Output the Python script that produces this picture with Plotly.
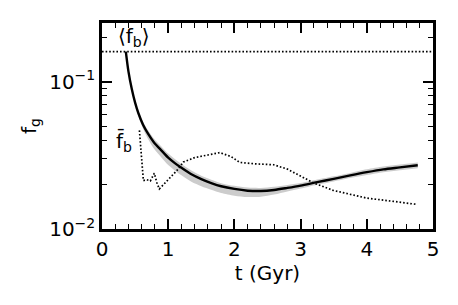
import numpy as np
import plotly.graph_objects as go

# Fit curve f_g(t)
t_fit = [0.36, 0.40, 0.45, 0.50, 0.55, 0.62, 0.70, 0.78, 0.90, 1.00, 1.10, 1.20, 1.35, 1.50, 1.65, 1.80,
         2.00, 2.20, 2.40, 2.60, 2.80, 3.00, 3.25, 3.50, 3.75, 4.00, 4.25, 4.50, 4.77]
f_fit = [0.16, 0.117, 0.089, 0.072, 0.061, 0.051, 0.044, 0.039, 0.034, 0.0305, 0.0280, 0.0260, 0.0235,
         0.0218, 0.0205, 0.0195, 0.0187, 0.0182, 0.0181, 0.0184, 0.0190, 0.0197, 0.0208, 0.0219, 0.0231,
         0.0243, 0.0254, 0.0262, 0.0271]
band_up = [1.01, 1.01, 1.015, 1.02, 1.03, 1.045, 1.055, 1.06, 1.065, 1.065, 1.065, 1.06, 1.06, 1.055, 1.055,
           1.05, 1.05, 1.05, 1.05, 1.05, 1.045, 1.04, 1.04, 1.04, 1.04, 1.045, 1.045, 1.045, 1.045]
band_lo = [0.99, 0.99, 0.985, 0.975, 0.96, 0.94, 0.92, 0.905, 0.895, 0.89, 0.89, 0.89, 0.89, 0.895, 0.9,
           0.9, 0.9, 0.905, 0.915, 0.93, 0.945, 0.955, 0.96, 0.96, 0.96, 0.955, 0.955, 0.955, 0.955]

# Mean baryon fraction curve
t_bar = [0.565, 0.59, 0.625, 0.675, 0.73, 0.79, 0.83, 0.866, 0.95, 1.05, 1.13, 1.23, 1.4, 1.6, 1.78,
         1.95, 2.08, 2.3, 2.59, 2.8, 2.99, 3.2, 3.49, 3.75, 4.0, 4.4, 4.75]
f_bar = [0.0467, 0.032, 0.0213, 0.0216, 0.0212, 0.0239, 0.0205, 0.0187, 0.0205, 0.0228, 0.0249, 0.0285,
         0.0305, 0.0318, 0.033, 0.031, 0.0283, 0.0277, 0.0273, 0.0255, 0.023, 0.0205, 0.0183, 0.0171,
         0.0162, 0.0154, 0.0147]

fb_cosmic = 0.16

x_ticks = [0, 1, 2, 3, 4, 5]
y_ticks = [0.01, 0.1]
y_ticktext = ["10<sup>\u22122</sup>", "10<sup>\u22121</sup>"]
y_minor = [0.02, 0.03, 0.04, 0.05, 0.06, 0.07, 0.08, 0.09, 0.2]
x_minor = [round(0.2 * i, 1) for i in range(26) if i % 5 != 0]

f_upper = [f * u for f, u in zip(f_fit, band_up)]
f_lower = [f * l for f, l in zip(f_fit, band_lo)]

fig = go.Figure()
fig.add_trace(go.Scatter(x=t_fit, y=f_upper, mode="lines", line=dict(width=0, shape="spline", smoothing=0.8),
                         showlegend=False, hoverinfo="skip"))
fig.add_trace(go.Scatter(x=t_fit, y=f_lower, mode="lines", line=dict(width=0, shape="spline", smoothing=0.8),
                         fill="tonexty", fillcolor="#cccccc", showlegend=False, hoverinfo="skip"))
fig.add_trace(go.Scatter(x=[0, 5], y=[fb_cosmic, fb_cosmic], mode="lines",
                         line=dict(color="black", width=1.7, dash="1.6px,2px"), showlegend=False))
fig.add_trace(go.Scatter(x=t_bar, y=f_bar, mode="lines",
                         line=dict(color="black", width=1.7, dash="1.6px,2px"), showlegend=False))
fig.add_trace(go.Scatter(x=t_fit, y=f_fit, mode="lines",
                         line=dict(color="black", width=2.4, shape="spline", smoothing=0.8), showlegend=False))

font = dict(family="DejaVu Sans", size=20, color="black")
common = dict(showgrid=False, zeroline=False, showline=True, linecolor="black", linewidth=2.5,
              ticks="inside", tickcolor="black", tickwidth=1.8, ticklen=10, mirror="allticks")

fig.update_xaxes(range=[0, 5], tickvals=x_ticks, title=dict(text="t (Gyr)", font=font, standoff=2),
                 tickfont=font,
                 minor=dict(ticks="inside", tickvals=x_minor, ticklen=5, tickcolor="black", tickwidth=1.2),
                 **common)
fig.update_yaxes(type="log", range=[-2, np.log10(0.25)], tickvals=y_ticks, ticktext=y_ticktext,
                 tickfont=font, title=dict(text="f<sub>g</sub>", font=font, standoff=8),
                 minor=dict(ticks="inside", tickvals=y_minor, ticklen=5, tickcolor="black", tickwidth=1.2),
                 **common)

fig.add_annotation(x=0.49, y=np.log10(0.2), text="\u27e8f<sub>b</sub>\u27e9", showarrow=False,
                   font=font, xref="x", yref="y")
fig.add_annotation(x=0.33, y=np.log10(0.0395), text="f\u0304<sub>b</sub>", showarrow=False,
                   font=font, xref="x", yref="y")

fig.update_layout(width=450, height=297, margin=dict(l=94, r=25, t=13, b=76),
                  plot_bgcolor="white", paper_bgcolor="white", font=font)
fig.write_html("out.html")
